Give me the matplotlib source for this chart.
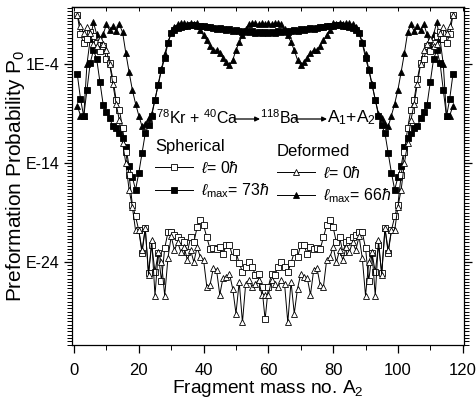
import numpy as np
import matplotlib
matplotlib.use("Agg")
import matplotlib.pyplot as plt
from matplotlib.ticker import FixedLocator, FixedFormatter, NullFormatter

plt.rcParams['font.family'] = ['Liberation Sans', 'DejaVu Sans']
plt.rcParams['mathtext.fontset'] = 'custom'
plt.rcParams['mathtext.rm'] = 'Liberation Sans'
plt.rcParams['mathtext.it'] = 'Liberation Sans:italic'
plt.rcParams['mathtext.bf'] = 'Liberation Sans:bold'
plt.rcParams['mathtext.fallback'] = 'stixsans'

# Fragment mass number A2
A2 = list(range(1, 118))

# log10 of preformation probability
# Spherical, l = 0 (open squares)
sph_l0_left = [1.0, -1.0, -1.9, -1.5, -0.8, -1.2, -1.9, -2.7, -2.2, -3.5,
               -3.9, -5.5, -7.6, -8.6, -10.5, -12.9, -15.2, -18.2, -19.4, -20.8,
               -23.1, -20.6, -25.1, -22.3, -25.0, -23.1, -25.9, -22.6, -21.0, -21.0,
               -21.3, -21.5, -21.8, -22.0, -23.0, -21.5, -22.0, -20.5, -19.8, -20.3,
               -21.5, -22.7, -22.6, -22.7, -22.5, -23.2, -22.3, -22.3, -23.5, -23.0,
               -24.1, -25.0, -24.5, -24.0, -24.5, -25.3, -25.2, -26.5, -29.8]
sph_l0_right = [-26.5, -25.2, -25.3, -24.5, -24.0, -24.5, -25.0, -24.1, -23.0, -23.5,
                -22.3, -22.3, -23.2, -22.5, -22.7, -22.6, -22.7, -21.5, -20.3, -19.8,
                -20.5, -22.0, -21.5, -23.0, -22.0, -21.8, -21.5, -21.3, -21.0, -21.0,
                -22.6, -25.9, -23.1, -25.0, -22.3, -25.1, -20.6, -23.1, -20.8, -19.4,
                -18.2, -15.2, -12.9, -10.5, -8.6, -7.6, -5.5, -3.9, -3.5, -2.2,
                -2.7, -1.9, -1.2, -0.8, -1.5, -1.9, -1.0, 1.0]

# Spherical, l_max = 73 hbar (filled squares)
sph_lmax_left = [-5.0, -7.5, -9.3, -6.6, -3.9, -2.6, -3.5, -5.8, -8.1, -8.8,
                 -9.5, -10.3, -10.5, -11.0, -11.5, -12.4, -14.3, -15.4, -16.7, -15.0,
                 -13.0, -11.0, -10.2, -9.2, -7.6, -6.1, -4.6, -3.4, -1.9, -0.9,
                 -0.6, -0.4, -0.3, -0.2, -0.2, -0.1, -0.1, -0.2, -0.2, -0.2,
                 -0.3, -0.3, -0.4, -0.5, -0.4, -0.5, -0.6, -0.5, -0.7, -0.6,
                 -0.7, -0.8, -0.7, -0.8, -0.7, -0.9, -0.8, -0.9, -0.8]
sph_lmax_right = [-0.9, -0.8, -0.9, -0.7, -0.8, -0.7, -0.8, -0.7, -0.6, -0.7,
                  -0.5, -0.6, -0.5, -0.4, -0.5, -0.4, -0.3, -0.3, -0.2, -0.2,
                  -0.2, -0.1, -0.1, -0.2, -0.2, -0.3, -0.4, -0.6, -0.9, -1.9,
                  -3.4, -4.6, -6.1, -7.6, -9.2, -10.2, -11.0, -13.0, -15.0, -16.7,
                  -15.4, -14.3, -12.4, -11.5, -11.0, -10.5, -10.3, -9.5, -8.8, -8.1,
                  -5.8, -3.5, -2.6, -3.9, -6.6, -9.3, -7.5, -5.0]

# Deformed, l = 0 (open triangles)
def_l0_left = [1.0, -0.2, -0.9, -0.3, -0.9, -2.0, -2.2, -1.5, -2.0, -2.6,
               -4.0, -6.0, -8.0, -9.7, -12.0, -14.0, -16.7, -18.4, -20.8, -20.8,
               -22.8, -20.6, -25.3, -21.8, -27.4, -23.0, -24.0, -27.4, -23.6, -21.4,
               -22.8, -22.0, -23.0, -22.5, -23.8, -22.8, -24.0, -22.5, -23.5, -23.8,
               -26.5, -26.3, -24.6, -24.8, -27.3, -25.6, -25.5, -25.2, -26.7, -29.2,
               -26.0, -30.1, -26.2, -25.8, -26.5, -26.2, -25.8, -27.3, -27.3]
def_l0_right = [-27.3, -25.8, -26.2, -26.5, -25.8, -26.2, -30.1, -26.0, -29.2, -26.7,
                -25.2, -25.5, -25.6, -27.3, -24.8, -24.6, -26.3, -26.5, -23.8, -23.5,
                -22.5, -24.0, -22.8, -23.8, -22.5, -23.0, -22.0, -22.8, -21.4, -23.6,
                -27.4, -24.0, -23.0, -27.4, -21.8, -25.3, -20.6, -22.8, -20.8, -20.8,
                -18.4, -16.7, -14.0, -12.0, -9.7, -8.0, -6.0, -4.0, -2.6, -2.0,
                -1.5, -2.2, -2.0, -0.9, -0.3, -0.9, -0.2, 1.0]

# Deformed, l_max = 66 hbar (filled triangles)
def_lmax_left = [-8.2, -9.2, -9.3, -4.0, -1.5, 0.2, -1.0, -2.2, -1.0, 0.0,
                 -0.6, -0.2, -0.7, 0.0, -0.8, -2.9, -4.8, -6.6, -8.0, -9.2,
                 -10.3, -10.1, -9.5, -9.0, -7.6, -6.0, -4.5, -3.0, -1.8, -0.8,
                 -0.3, 0.0, 0.1, 0.1, 0.0, 0.1, 0.0, 0.1, -0.6, -1.1,
                 -1.6, -2.2, -2.6, -2.6, -2.9, -3.4, -3.8, -4.1, -3.6, -2.6,
                 -1.8, -1.1, -0.5, 0.0, 0.1, 0.1, 0.0, 0.1, 0.0]
def_lmax_right = [0.1, 0.0, 0.1, 0.1, 0.0, -0.5, -1.1, -1.8, -2.6, -3.6,
                  -4.1, -3.8, -3.4, -2.9, -2.6, -2.6, -2.2, -1.6, -1.1, -0.6,
                  0.1, 0.0, 0.1, 0.0, 0.1, 0.1, 0.0, -0.3, -0.8, -1.8,
                  -3.0, -4.5, -6.0, -7.6, -9.0, -9.5, -10.1, -10.3, -9.2, -8.0,
                  -6.6, -4.8, -2.9, -0.8, 0.0, -0.7, -0.2, -0.6, 0.0, -1.0,
                  -2.2, -1.0, 0.2, -1.5, -4.0, -9.3, -9.2, -8.2]

y_tick_labels = ['1E-4', 'E-14', 'E-24']
y_tick_exp = [-4, -14, -24]
x_ticks = [0, 20, 40, 60, 80, 100, 120]
x_minor = [10, 30, 50, 70, 90, 110]


def P(left, right):
    return 10.0 ** np.array(left + right)


fig = plt.figure(figsize=(4.76, 4.09), dpi=100)
ax = fig.add_axes([72 / 476, 1 - 345 / 409, 392 / 476, 338 / 409])

lw = 0.7
ms_sq = 4.0
ms_tr = 4.6
l_sphM, = ax.plot(A2, P(sph_lmax_left, sph_lmax_right), '-', color='black', lw=lw,
                  marker='s', ms=ms_sq, mfc='black', mec='black', mew=0.6)
l_defM, = ax.plot(A2, P(def_lmax_left, def_lmax_right), '-', color='black', lw=lw,
                  marker='^', ms=ms_tr, mfc='black', mec='black', mew=0.6)
l_sph0, = ax.plot(A2, P(sph_l0_left, sph_l0_right), '-', color='black', lw=lw,
                  marker='s', ms=ms_sq, mfc='white', mec='black', mew=0.6)
l_def0, = ax.plot(A2, P(def_l0_left, def_l0_right), '-', color='black', lw=lw,
                  marker='^', ms=ms_tr, mfc='white', mec='black', mew=0.6)

ax.set_yscale('log')
ax.set_xlim(-0.62, 120.4)
ax.set_ylim(10 ** -32.38, 10 ** 1.76)

ax.xaxis.set_major_locator(FixedLocator(x_ticks))
ax.xaxis.set_minor_locator(FixedLocator(x_minor))
ax.yaxis.set_major_locator(FixedLocator([10.0 ** e for e in y_tick_exp]))
ax.yaxis.set_major_formatter(FixedFormatter(y_tick_labels))
ax.yaxis.set_minor_locator(FixedLocator([10.0 ** (k / 3.0) for k in range(-99, 7)]))
ax.yaxis.set_minor_formatter(NullFormatter())

ax.tick_params(axis='both', which='major', direction='out', length=6, width=0.9,
               labelsize=12)
ax.tick_params(axis='y', which='major', labelsize=11.5, pad=3)
ax.tick_params(axis='x', which='major', pad=7)
ax.tick_params(axis='both', which='minor', direction='out', length=3.5, width=0.7)
ax.tick_params(axis='y', which='both', right=True)

secx = ax.secondary_xaxis('top')
secx.xaxis.set_major_locator(FixedLocator(x_ticks + x_minor))
secx.tick_params(direction='in', length=3, width=0.7, labeltop=False)

for sp in ax.spines.values():
    sp.set_linewidth(0.9)
secx.spines['top'].set_linewidth(0.9)

ax.set_xlabel('Fragment mass no. A$_2$', fontsize=13.8)
ax.xaxis.set_label_coords(0.5, -0.098)
ax.set_ylabel('Preformation Probability P$_0$', fontsize=15)
ax.yaxis.set_label_coords(-0.1147, 0.5)


def fx(px):
    return (px - 72) / 392.0


def fy(py):
    return (345 - py) / 338.0


# Reaction annotation
ax.text(fx(156), fy(118), r'$^{78}$Kr + $^{40}$Ca', transform=ax.transAxes,
        fontsize=11.5, va='center', ha='left')
ax.annotate('', xy=(fx(260), fy(119)), xytext=(fx(234), fy(119)),
            xycoords='axes fraction', textcoords='axes fraction',
            arrowprops=dict(arrowstyle='-|>', color='black', lw=0.9,
                            mutation_scale=7, shrinkA=0, shrinkB=0))
ax.text(fx(260), fy(118), r'$^{118}$Ba', transform=ax.transAxes,
        fontsize=11.5, va='center', ha='left')
ax.annotate('', xy=(fx(327), fy(119)), xytext=(fx(295), fy(119)),
            xycoords='axes fraction', textcoords='axes fraction',
            arrowprops=dict(arrowstyle='-|>', color='black', lw=0.9,
                            mutation_scale=7, shrinkA=0, shrinkB=0))
ax.text(fx(327), fy(118), r'A$_1$+A$_2$', transform=ax.transAxes,
        fontsize=12.5, va='center', ha='left')

# Legends
common = dict(loc='upper left', frameon=False, fontsize=11.5, title_fontsize=12,
              handlelength=2.4, handletextpad=0.5, labelspacing=0.35,
              borderpad=0, borderaxespad=0, alignment='left')
leg1 = ax.legend([l_sph0, l_sphM],
                 [r'$\ell$= 0$\hbar$', r'$\ell_{\rm max}$= 73$\hbar$'],
                 title='Spherical', bbox_to_anchor=(fx(155), fy(139)), **common)
ax.add_artist(leg1)
leg2 = ax.legend([l_def0, l_defM],
                 [r'$\ell$= 0$\hbar$', r'$\ell_{\rm max}$= 66$\hbar$'],
                 title='Deformed', bbox_to_anchor=(fx(277), fy(144)), **common)

fig.savefig('out.png', dpi=100)
